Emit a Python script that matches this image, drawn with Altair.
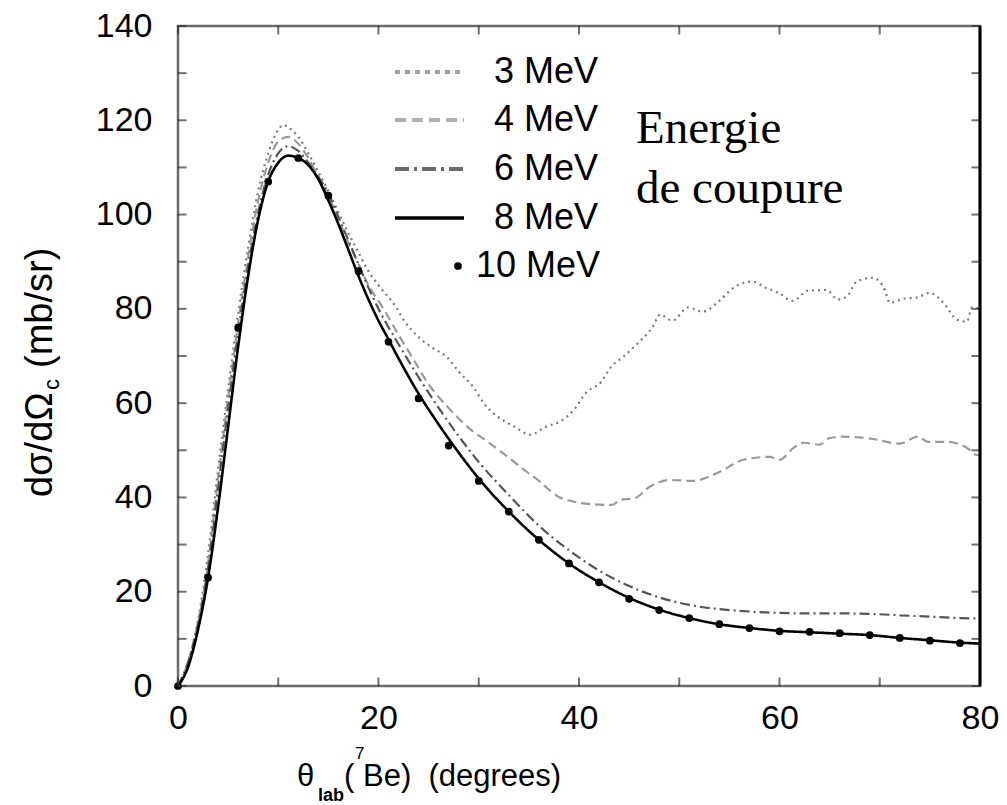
import altair as alt
import pandas as pd

# ---------------- data ----------------
x3 = [0, 1, 2, 3, 4, 5, 6, 7, 8, 9, 10, 10.5, 11, 12, 13, 14, 15, 16, 17, 18, 19, 20,
      21.7, 22.5, 24, 25.2, 26.9, 28, 29.5, 30.5, 31.9, 33.4, 35.2, 36.5, 38.4, 39.5,
      40.7, 42.2, 43.2, 44.4, 45.9, 47.3, 48.1, 49.3, 50.9, 52.3, 53.9, 55.3, 57.3,
      58.6, 59.9, 61.3, 62.9, 64.7, 65.8, 66.7, 67.7, 69.3, 70.5, 71, 72.5, 73.7, 75,
      76.5, 77.7, 78.7, 79.2, 80]
y3 = [0, 5, 14, 28, 46, 63, 79, 93, 105, 113, 118, 119, 118.5, 116.5, 113, 109, 105,
      100.5, 96, 92, 88, 85, 80.5, 77.7, 74, 72, 69.6, 66.7, 63.3, 60, 57.1, 55.2, 53.3,
      54.8, 56.5, 58.6, 62.2, 64.5, 67.7, 69.8, 72.8, 76, 78.8, 77.5, 80.3, 79.4, 81.5,
      84.3, 85.8, 84.5, 83.4, 81.7, 83.9, 84, 82, 82.6, 85.8, 86.6, 84, 81.3, 82.2,
      82.4, 83.4, 80.9, 77.7, 77.3, 80.3, 80]

x4 = [0, 1, 2, 3, 4, 5, 6, 7, 8, 9, 10, 11, 12, 13, 14, 15, 16, 17, 18, 19, 20.5, 22,
      23.4, 24.9, 26.9, 29.2, 30.9, 32.2, 33.5, 34.5, 35.9, 36.7, 38, 39.1, 41.1, 43.3,
      44.1, 45.5, 47.1, 49.1, 51.3, 54, 56.4, 59, 60, 61.4, 62.4, 64, 65, 66.3, 69.3,
      72, 73.8, 74.8, 76.7, 78.7, 79.7, 80]
y4 = [0, 5, 13.5, 26, 44, 61, 77, 91, 103, 111, 115.5, 116.5, 115, 112, 108, 104, 99,
      94, 89.5, 85, 80, 74.5, 69.6, 64.3, 59.2, 54.4, 51.8, 49.7, 47.6, 45.9, 43.7,
      42.2, 40.1, 39.3, 38.6, 38.4, 39.5, 39.8, 42.3, 43.7, 43.5, 45.4, 48, 48.6, 48,
      50.5, 51.6, 51.2, 52.6, 52.9, 52.4, 51.4, 52.9, 51.8, 51.8, 50.5, 49, 49]

x6 = [0, 1, 2, 3, 4, 5, 6, 7, 8, 9, 10, 11, 12, 13, 14, 15, 16, 17, 18, 19, 20, 22, 24,
      26, 28, 30, 33, 36, 39, 42, 45, 48, 51, 54, 57, 60, 63, 66, 69, 72, 75, 78, 80]
y6 = [0, 5, 13, 25, 42, 59, 75, 89, 100.5, 108.5, 113, 114.5, 113.5, 111, 108, 104.5,
      99.5, 94.5, 89.5, 84.5, 80, 72.5, 65.5, 59, 53, 47.5, 40.5, 34, 28.8, 24.5, 21.2,
      18.8, 17.2, 16.3, 15.8, 15.5, 15.4, 15.4, 15.3, 15, 14.7, 14.4, 14.3]

x8 = [0, 1, 2, 3, 4, 5, 6, 7, 8, 9, 10, 11, 12, 13, 14, 15, 16, 17, 18, 19, 20, 21, 22,
      24, 26, 28, 30, 33, 36, 39, 42, 45, 48, 51, 54, 57, 60, 63, 66, 69, 72, 75, 78, 80]
y8 = [0, 4, 12, 23, 38, 55, 72, 87, 99, 107, 111, 112.5, 112, 110.5, 107.5, 103, 98,
      92.5, 87, 82, 77.5, 73.5, 69.5, 62, 55.5, 49.5, 44, 37, 31, 26, 22, 18.7, 16.2,
      14.4, 13.1, 12.3, 11.7, 11.4, 11.1, 10.8, 10.2, 9.7, 9.2, 9.0]

x10 = [0, 3, 6, 9, 12, 15, 18, 21, 24, 27, 30, 33, 36, 39, 42, 45, 48, 51, 54, 57, 60,
       63, 66, 69, 72, 75, 78]
y10 = [0, 23, 76, 107, 112, 104, 88, 73, 61, 51, 43.5, 37, 31, 26, 22, 18.5, 16.1,
       14.4, 13.1, 12.3, 11.6, 11.5, 11.2, 10.8, 10.2, 9.6, 9.1]

series_labels = ["3 MeV", "4 MeV", "6 MeV", "8 MeV", "10 MeV"]
x_tick_labels = [0, 20, 40, 60, 80]
y_tick_labels = [0, 20, 40, 60, 80, 100, 120, 140]
x_minor = list(range(0, 81, 10))
y_minor = list(range(0, 141, 10))

# ---------------- layout / style ----------------
W, H = 802, 660
FONT = "Liberation Sans"
XS = alt.Scale(domain=[0, 80], nice=False, zero=False)
YS = alt.Scale(domain=[0, 140], nice=False, zero=False)

x_axis = alt.Axis(values=x_tick_labels, domain=False, ticks=False, grid=False,
                  labelFont=FONT, labelFontSize=34, labelColor="black",
                  labelPadding=15, labelFlush=False, labelOverlap=False, title=None)
y_axis = alt.Axis(values=y_tick_labels, domain=False, ticks=False, grid=False,
                  labelFont=FONT, labelFontSize=34, labelColor="black",
                  labelPadding=26, labelFlush=False, labelOverlap=False, title=None)

X_ENC = lambda f: alt.X(f"{f}:Q", scale=XS, axis=x_axis)
Y_ENC = lambda f: alt.Y(f"{f}:Q", scale=YS, axis=y_axis)

styles = {
    "3 MeV": dict(color="#7a7a7a", dash=[2, 4], width=2.2),
    "4 MeV": dict(color="#9a9a9a", dash=[9, 5], width=2.2),
    "6 MeV": dict(color="#555555", dash=[10, 4, 2, 4], width=2.2),
    "8 MeV": dict(color="#000000", dash=[1, 0], width=2.6),
}
series_data = {"3 MeV": (x3, y3), "4 MeV": (x4, y4), "6 MeV": (x6, y6), "8 MeV": (x8, y8)}

layers = []
for name in ["3 MeV", "4 MeV", "6 MeV", "8 MeV"]:
    xs, ys = series_data[name]
    st = styles[name]
    df = pd.DataFrame({"theta": xs, "sigma": ys})
    layers.append(
        alt.Chart(df).mark_line(color=st["color"], strokeDash=st["dash"],
                                strokeWidth=st["width"], interpolate="monotone")
        .encode(x=X_ENC("theta"), y=Y_ENC("sigma"))
    )

df10 = pd.DataFrame({"theta": x10, "sigma": y10})
layers.append(
    alt.Chart(df10).mark_point(filled=True, size=60, color="black", opacity=1)
    .encode(x=X_ENC("theta"), y=Y_ENC("sigma"))
)

# inward ticks
xt = pd.DataFrame({"theta": x_minor})
yt = pd.DataFrame({"sigma": y_minor})
tick_col = "#333333"
layers.append(alt.Chart(xt).mark_tick(orient="vertical", size=9, thickness=2, color=tick_col)
              .encode(x=X_ENC("theta"), y=alt.value(H - 4)))
layers.append(alt.Chart(xt).mark_tick(orient="vertical", size=9, thickness=2, color=tick_col)
              .encode(x=X_ENC("theta"), y=alt.value(4)))
layers.append(alt.Chart(yt).mark_tick(orient="horizontal", size=9, thickness=2, color=tick_col)
              .encode(y=Y_ENC("sigma"), x=alt.value(4)))
layers.append(alt.Chart(yt).mark_tick(orient="horizontal", size=9, thickness=2, color=tick_col)
              .encode(y=Y_ENC("sigma"), x=alt.value(W - 4)))
# darker right border as in the reference
layers.append(alt.Chart(pd.DataFrame({"k": [0]})).mark_rule(color="black", strokeWidth=3)
              .encode(x=alt.value(W), y=alt.value(0), y2=alt.value(H)))

one = pd.DataFrame({"k": [0]})


def txt(text, x, y, size, font=FONT, align="left", baseline="alphabetic", angle=0,
        weight="normal"):
    return alt.Chart(one).mark_text(text=text, font=font, fontSize=size, align=align,
                                    baseline=baseline, angle=angle, fontWeight=weight,
                                    color="black").encode(x=alt.value(x), y=alt.value(y))


# legend (inside plot)
leg_y = [46, 94, 143, 192]
leg_colors = {"3 MeV": "#a0a0a0", "4 MeV": "#b0b0b0", "6 MeV": "#6a6a6a", "8 MeV": "#000000"}
leg_dash = {"3 MeV": [5, 5], "4 MeV": [11, 6], "6 MeV": [14, 5, 3, 5], "8 MeV": [1, 0]}
for name, yy in zip(series_labels[:4], leg_y):
    layers.append(
        alt.Chart(one).mark_rule(color=leg_colors[name], strokeDash=leg_dash[name],
                                 strokeWidth=4 if name != "8 MeV" else 3.5)
        .encode(x=alt.value(217), x2=alt.value(286), y=alt.value(yy))
    )
    layers.append(txt(name, 420, yy, 36, align="right", baseline="middle"))
layers.append(alt.Chart(one).mark_point(filled=True, size=60, color="black", opacity=1)
              .encode(x=alt.value(280), y=alt.value(240)))
layers.append(txt(series_labels[4], 422, 240, 36, align="right", baseline="middle"))

# annotation
layers.append(txt("Energie", 458, 117, 47, font="Liberation Serif"))
layers.append(txt("de coupure", 458, 177, 47, font="Liberation Serif"))

# x-axis title pieces
layers.append(txt("θ", 119, 760, 31))
layers.append(txt("lab", 140, 775, 18, weight="bold"))
layers.append(txt("(", 166, 760, 31))
layers.append(txt("7", 177, 733, 17))
layers.append(txt("Be)\u00a0\u00a0(degrees)", 185, 760, 31))

# y-axis title pieces (rotated)
layers.append(txt("dσ/dΩ", -126, 471, 38, angle=270))
layers.append(txt("c", -119, 364, 22, angle=270))
layers.append(txt("(mb/sr)", -126, 342, 38, angle=270))

chart = alt.layer(*layers).properties(
    width=W, height=H,
    padding={"left": 178, "top": 26, "right": 27, "bottom": 119},
    autosize=alt.AutoSizeParams(type="none"),
    background="white",
).configure_view(stroke="#6b6b6b", strokeWidth=2.5)

chart.save("out.html", embed_options={"renderer": "svg", "actions": False})
